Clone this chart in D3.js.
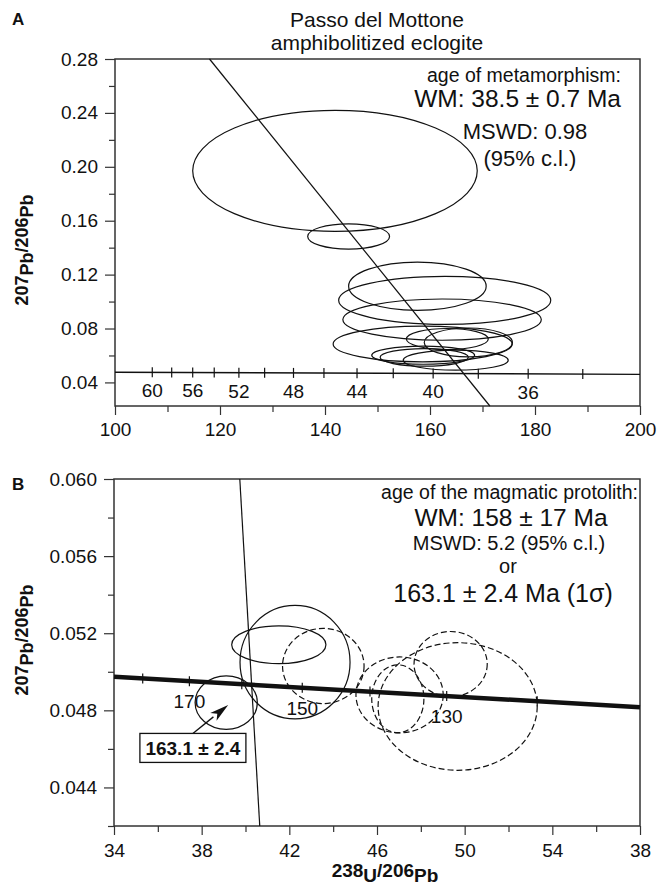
<!DOCTYPE html>
<html>
<head>
<meta charset="utf-8">
<script src="https://cdn.jsdelivr.net/npm/d3@7"></script>
<style>
  body { margin: 0; background: #fff; }
  text { font-family: "Liberation Sans", Arial, Helvetica, sans-serif; fill: #111; }
</style>
</head>
<body>
<svg id="chart" width="665" height="890"></svg>
<script>
// ---- Panel A : amphibolitized eclogite (Tera-Wasserburg) ----
// error ellipses: centre (238U/206Pb, 207Pb/206Pb) and half axes
const ellA_x  = [141.9, 144.5, 157.6, 162.8, 162.3, 158.6, 163.3, 167.3, 158.7, 158.9, 164.9];
const ellA_rx = [27.1, 7.8, 13.1, 20.2, 18.9, 17.05, 7.8, 8.4, 9.8, 8.4, 10.0];
const ellA_y  = [0.197, 0.1483, 0.1114, 0.1009, 0.0866, 0.0685, 0.0722, 0.0697, 0.0602, 0.0586, 0.0565];
const ellA_ry = [0.0449, 0.0094, 0.0179, 0.0178, 0.0153, 0.0132, 0.0078, 0.0107, 0.0067, 0.0065, 0.0074];
// concordia ticks (Ma) and their 238U/206Pb positions
const concA_ages = [60, 58, 56, 54, 52, 50, 48, 46, 44, 42, 40, 38, 36, 34];
const concA_x    = [107.1, 110.8, 114.8, 118.9, 123.6, 128.5, 134.0, 139.8, 146.1, 153.0, 160.6, 169.2, 178.7, 189.1];
const concA_labels = [60, 56, 52, 48, 44, 40, 36];
const concA_lineX = [100, 200];
const concA_lineY = [0.0476, 0.0460];
// regression line
const regA_x = [118.0, 171.4];
const regA_y = [0.28, 0.0225];
const yTicksA = [0.04, 0.08, 0.12, 0.16, 0.20, 0.24, 0.28];
const yMinorA = [0.06, 0.10, 0.14, 0.18, 0.22, 0.26];
const xTicksA = [100, 120, 140, 160, 180, 200];
const xMinorA = [110, 130, 150, 170, 190];

// ---- Panel B : magmatic protolith ----
const ellB_x  = [39.12, 41.52, 42.26, 43.55, 47.03, 46.95, 49.36, 49.68];
const ellB_rx = [1.42, 2.15, 2.51, 1.86, 1.99, 1.19, 1.67, 3.63];
const ellB_y  = [0.0484, 0.0514, 0.0505, 0.0503, 0.0488, 0.0486, 0.0504, 0.0482];
const ellB_ry = [0.00139, 0.00098, 0.00294, 0.00195, 0.00197, 0.00176, 0.00169, 0.00331];
const ellB_dashed = [false, false, false, true, true, true, true, true];
const concB_ages = [180, 170, 160, 150, 140, 130, 120];
const concB_x    = [35.31, 37.44, 39.83, 42.59, 45.68, 49.18, 53.31];
const concB_labels = [170, 150, 130];
const concB_lineX = [34, 58];
const concB_lineY = [0.04974, 0.04816];
const regB_x = [39.74, 40.65];
const regB_y = [0.060, 0.042];
const yTicksB = [0.044, 0.048, 0.052, 0.056, 0.060];
const yMinorB = [0.042, 0.046, 0.050, 0.054, 0.058];
const xTicksB = [34, 38, 42, 46, 50, 54, 58];
const xTickLabelsB = ["34", "38", "42", "46", "50", "54", "38"];
const xMinorB = [36, 40, 44, 48, 52, 56];
// annotation: arrow tip and box centre (data units)
const annotB_tip = [39.21, 0.04828];
const annotB_box = [37.60, 0.04605];

const svg = d3.select("#chart");
const ink = "#111";

const xA = d3.scaleLinear().domain([100, 200]).range([115, 640]);
const yA = d3.scaleLinear().domain([0.0225, 0.28]).range([406, 59]);
const xB = d3.scaleLinear().domain([34, 58]).range([114, 640]);
const yB = d3.scaleLinear().domain([0.042, 0.060]).range([826, 479]);

function styleAxis(g, size) {
    g.select(".domain").remove();
    g.attr("font-size", size).attr("font-family", null);
    g.selectAll("line").attr("stroke", "#333").attr("stroke-width", 1.2);
    g.selectAll("text").attr("fill", ink);
}

function axes(x, y, yMaj, yMin, yFmt, xMaj, xMin, xFmt, yPad, xPad) {
    let [x0, x1] = x.range();
    let [y0, y1] = y.range();
    let g = svg.append("g");
    g.append("g").attr("transform", `translate(${x0},0)`)
        .call(d3.axisLeft(y).tickValues(yMin).tickSize(6).tickFormat(""))
        .call(a => styleAxis(a, 19));
    g.append("g").attr("transform", `translate(${x0},0)`)
        .call(d3.axisLeft(y).tickValues(yMaj).tickSize(10).tickPadding(yPad).tickFormat(yFmt))
        .call(a => styleAxis(a, 19));
    g.append("g").attr("transform", `translate(0,${y0})`)
        .call(d3.axisBottom(x).tickValues(xMin).tickSize(6).tickFormat(""))
        .call(a => styleAxis(a, 19));
    g.append("g").attr("transform", `translate(0,${y0})`)
        .call(d3.axisBottom(x).tickValues(xMaj).tickSize(9).tickPadding(xPad).tickFormat(xFmt))
        .call(a => styleAxis(a, 19));
    // frame
    g.append("rect")
        .attr("x", x0).attr("y", y1)
        .attr("width", x1 - x0).attr("height", y0 - y1)
        .attr("fill", "none").attr("stroke", "#333").attr("stroke-width", 1.5);
}

function isoTitle(parts, tx, ty, rotate, size) {
    let t = svg.append("text")
        .attr("transform", `translate(${tx},${ty})` + (rotate ? " rotate(-90)" : ""))
        .attr("text-anchor", "middle")
        .attr("font-size", size)
        .attr("font-weight", "bold");
    parts.forEach(function (p, i) {
        let prevSub = i > 0 && parts[i - 1][1];
        let shift = (p[1] ? 5 : 0) - (prevSub ? 5 : 0);
        t.append("tspan").attr("dy", shift).text(p[0]);
    });
}

function ellipses(x, y, cx, rx, cy, ry, dashed) {
    svg.append("g").selectAll("ellipse")
        .data(cx.map((d, i) => i))
        .join("ellipse")
        .attr("cx", i => x(cx[i]))
        .attr("cy", i => y(cy[i]))
        .attr("rx", i => x(cx[i] + rx[i]) - x(cx[i]))
        .attr("ry", i => y(cy[i]) - y(cy[i] + ry[i]))
        .attr("fill", "none")
        .attr("stroke", ink)
        .attr("stroke-width", 1.2)
        .attr("stroke-dasharray", i => dashed && dashed[i] ? "6,3" : null);
}

function concordia(x, y, lx, ly, ages, ux, labels, width, lblOff) {
    let cv = d3.scaleLinear().domain(lx).range(ly);
    svg.append("line")
        .attr("x1", x(lx[0])).attr("y1", y(ly[0]))
        .attr("x2", x(lx[1])).attr("y2", y(ly[1]))
        .attr("stroke", ink).attr("stroke-width", width);
    svg.append("g").selectAll("line")
        .data(ux)
        .join("line")
        .attr("x1", d => x(d)).attr("x2", d => x(d))
        .attr("y1", d => y(cv(d)) - 5).attr("y2", d => y(cv(d)) + 5)
        .attr("stroke", ink).attr("stroke-width", 1.2);
    svg.append("g").selectAll("text")
        .data(labels)
        .join("text")
        .attr("x", a => x(ux[ages.indexOf(a)]))
        .attr("y", a => y(cv(ux[ages.indexOf(a)])) + lblOff)
        .attr("text-anchor", "middle")
        .attr("font-size", 19)
        .text(a => a);
}

// ================= Panel A =================
axes(xA, yA, yTicksA, yMinorA, d3.format(".2f"), xTicksA, xMinorA, d3.format("d"), 7, 8);
ellipses(xA, yA, ellA_x, ellA_rx, ellA_y, ellA_ry);
svg.append("line")
    .attr("x1", xA(regA_x[0])).attr("y1", yA(regA_y[0]))
    .attr("x2", xA(regA_x[1])).attr("y2", yA(regA_y[1]))
    .attr("stroke", ink).attr("stroke-width", 1.2);
concordia(xA, yA, concA_lineX, concA_lineY, concA_ages, concA_x, concA_labels, 1.4, 25);

svg.append("text").attr("x", 12).attr("y", 25)
    .attr("font-size", 17).attr("font-weight", "bold").text("A");
svg.append("text").attr("x", 377).attr("y", 27).attr("text-anchor", "middle")
    .attr("font-size", 21).text("Passo del Mottone");
svg.append("text").attr("x", 377).attr("y", 50).attr("text-anchor", "middle")
    .attr("font-size", 21).text("amphibolitized eclogite");

svg.append("text").attr("x", 621).attr("y", 82).attr("text-anchor", "end")
    .attr("font-size", 19.5).text("age of metamorphism:");
svg.append("text").attr("x", 621).attr("y", 107).attr("text-anchor", "end")
    .attr("font-size", 24.5).text("WM: 38.5 \u00b1 0.7 Ma");
svg.append("text").attr("x", 525).attr("y", 139).attr("text-anchor", "middle")
    .attr("font-size", 22).text("MSWD: 0.98");
svg.append("text").attr("x", 530).attr("y", 166).attr("text-anchor", "middle")
    .attr("font-size", 22).text("(95% c.l.)");

isoTitle([["207", 0], ["Pb", 1], ["/206", 0], ["Pb", 1]], 28, 250, true, 18);

// ================= Panel B =================
axes(xB, yB, yTicksB, yMinorB, d3.format(".3f"), xTicksB, xMinorB,
     (d, i) => xTickLabelsB[i], 7, 9);
ellipses(xB, yB, ellB_x, ellB_rx, ellB_y, ellB_ry, ellB_dashed);
svg.append("line")
    .attr("x1", xB(regB_x[0])).attr("y1", yB(regB_y[0]))
    .attr("x2", xB(regB_x[1])).attr("y2", yB(regB_y[1]))
    .attr("stroke", ink).attr("stroke-width", 1.2);
concordia(xB, yB, concB_lineX, concB_lineY, concB_ages, concB_x, concB_labels, 4.5, 27);

// annotation box + arrow
let bx = xB(annotB_box[0]), by = yB(annotB_box[1]);
let tipX = xB(annotB_tip[0]), tipY = yB(annotB_tip[1]);
let tailX = bx, tailY = by - 14.5;
let dx = tipX - tailX, dy = tipY - tailY, len = Math.hypot(dx, dy);
let ux = dx / len, uy = dy / len;
let hb = [tipX - ux * 19, tipY - uy * 19];
svg.append("line")
    .attr("x1", tailX).attr("y1", tailY).attr("x2", hb[0]).attr("y2", hb[1])
    .attr("stroke", ink).attr("stroke-width", 1.3);
svg.append("path")
    .attr("d", d3.line()([
        [tipX, tipY],
        [hb[0] - uy * 5, hb[1] + ux * 5],
        [tipX - ux * 14, tipY - uy * 14],
        [hb[0] + uy * 5, hb[1] - ux * 5]
    ]) + "Z")
    .attr("fill", ink);
svg.append("rect")
    .attr("x", bx - 53).attr("y", by - 14.5).attr("width", 106).attr("height", 29)
    .attr("fill", "#fff").attr("stroke", ink).attr("stroke-width", 1.3);
svg.append("text").attr("x", bx).attr("y", by + 7).attr("text-anchor", "middle")
    .attr("font-size", 19).attr("font-weight", "bold").text("163.1 \u00b1 2.4");

svg.append("text").attr("x", 12).attr("y", 490)
    .attr("font-size", 17).attr("font-weight", "bold").text("B");
svg.append("text").attr("x", 638).attr("y", 499).attr("text-anchor", "end")
    .attr("font-size", 19.5).text("age of the magmatic protolith:");
svg.append("text").attr("x", 511).attr("y", 526).attr("text-anchor", "middle")
    .attr("font-size", 24.5).text("WM: 158 \u00b1 17 Ma");
svg.append("text").attr("x", 509).attr("y", 550).attr("text-anchor", "middle")
    .attr("font-size", 20).text("MSWD: 5.2 (95% c.l.)");
svg.append("text").attr("x", 508).attr("y", 573).attr("text-anchor", "middle")
    .attr("font-size", 20).text("or");
svg.append("text").attr("x", 503).attr("y", 602).attr("text-anchor", "middle")
    .attr("font-size", 25).text("163.1 \u00b1 2.4 Ma (1\u03c3)");

isoTitle([["207", 0], ["Pb", 1], ["/206", 0], ["Pb", 1]], 28, 640, true, 18);
isoTitle([["238", 0], ["U", 1], ["/206", 0], ["Pb", 1]], 385, 877, false, 19);
</script>
</body>
</html>
